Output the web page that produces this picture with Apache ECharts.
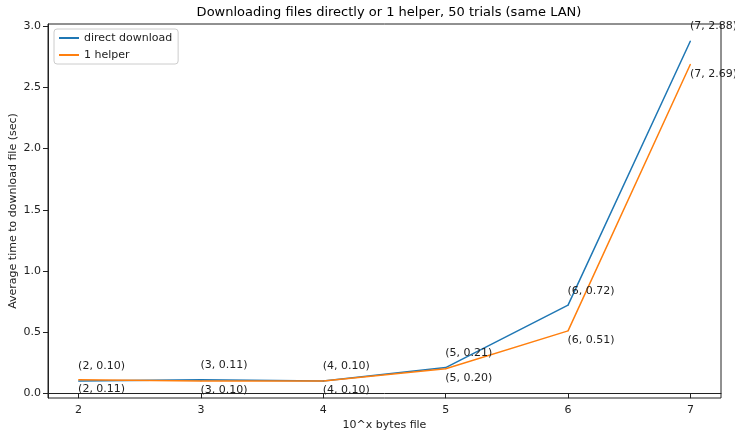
<!DOCTYPE html>
<html>
<head>
<meta charset="utf-8">
<script src="https://cdn.jsdelivr.net/npm/echarts@6/dist/echarts.min.js"></script>
<style>
  html, body { margin: 0; padding: 0; background: #fff; }
  #chart { width: 735px; height: 434px; }
</style>
</head>
<body>
<div id="chart"></div>
<script>
// exponent of file size (10^x bytes)
const sizes = [2, 3, 4, 5, 6, 7]
const directDownload = [0.10, 0.11, 0.10, 0.21, 0.72, 2.88]
const oneHelper = [0.11, 0.10, 0.10, 0.20, 0.51, 2.69]
const xTicks = [2, 3, 4, 5, 6, 7]
const yTicks = [0.0, 0.5, 1.0, 1.5, 2.0, 2.5, 3.0]

const font = 'DejaVu Sans'

function pairs(values) {
  return sizes.map((x, i) => [x, values[i]])
}

function pointLabel(offsetY) {
  return {
    show: true,
    position: [0, offsetY],
    align: 'left',
    verticalAlign: 'middle',
    fontFamily: font,
    fontSize: 11,
    color: '#222',
    formatter: p => '(' + p.value[0] + ', ' + p.value[1].toFixed(2) + ')'
  }
}

const chart = echarts.init(document.getElementById('chart'))

const option = {
  animation: false,
  backgroundColor: '#fff',
  title: {
    text: 'Downloading files directly or 1 helper, 50 trials (same LAN)',
    left: 384,
    textAlign: 'center',
    top: 1,
    textStyle: { fontFamily: font, fontSize: 13, fontWeight: 'normal', color: '#000' }
  },
  grid: {
    left: 48, right: 14, top: 24, bottom: 36,
    outerBoundsMode: 'none',
    containLabel: false,
    show: true, borderColor: '#222', borderWidth: 1
  },
  legend: {
    left: 54, top: 29,
    orient: 'vertical',
    padding: [2, 6, 2, 5],
    itemGap: 3,
    itemWidth: 20,
    itemHeight: 2,
    icon: 'rect',
    backgroundColor: '#fff',
    borderColor: '#ccc',
    borderWidth: 1,
    borderRadius: 3,
    textStyle: { fontFamily: font, fontSize: 11, color: '#222', lineHeight: 14 },
    data: ['direct download', '1 helper']
  },
  xAxis: {
    type: 'value',
    min: 1.75,
    max: 7.25,
    name: '10^x bytes file',
    nameLocation: 'middle',
    nameGap: 22,
    nameMoveOverlap: false,
    nameTextStyle: { fontFamily: font, fontSize: 11, color: '#222' },
    splitLine: { show: false },
    axisLine: { lineStyle: { color: '#222' } },
    axisTick: { length: 5, lineStyle: { color: '#222' }, customValues: xTicks },
    axisLabel: { fontFamily: font, fontSize: 11, color: '#222', margin: 7, customValues: xTicks }
  },
  yAxis: {
    type: 'value',
    min: -0.039,
    max: 3.019,
    name: 'Average time to download file (sec)',
    nameLocation: 'middle',
    nameGap: 29,
    nameMoveOverlap: false,
    nameTextStyle: { fontFamily: font, fontSize: 11, color: '#222' },
    splitLine: { show: false },
    axisLine: { show: true, lineStyle: { color: '#222' } },
    axisTick: { show: true, length: 5, lineStyle: { color: '#222' }, customValues: yTicks },
    axisLabel: {
      fontFamily: font, fontSize: 11, color: '#222', margin: 7,
      customValues: yTicks,
      formatter: v => v.toFixed(1)
    }
  },
  series: [
    {
      name: 'direct download',
      type: 'line',
      data: pairs(directDownload),
      symbol: 'circle',
      symbolSize: 1,
      color: '#1f77b4',
      lineStyle: { width: 1.5 },
      label: pointLabel(-14)
    },
    {
      name: '1 helper',
      type: 'line',
      data: pairs(oneHelper),
      symbol: 'circle',
      symbolSize: 1,
      color: '#ff7f0e',
      lineStyle: { width: 1.5 },
      label: pointLabel(10)
    }
  ]
}

chart.setOption(option)
</script>
</body>
</html>
